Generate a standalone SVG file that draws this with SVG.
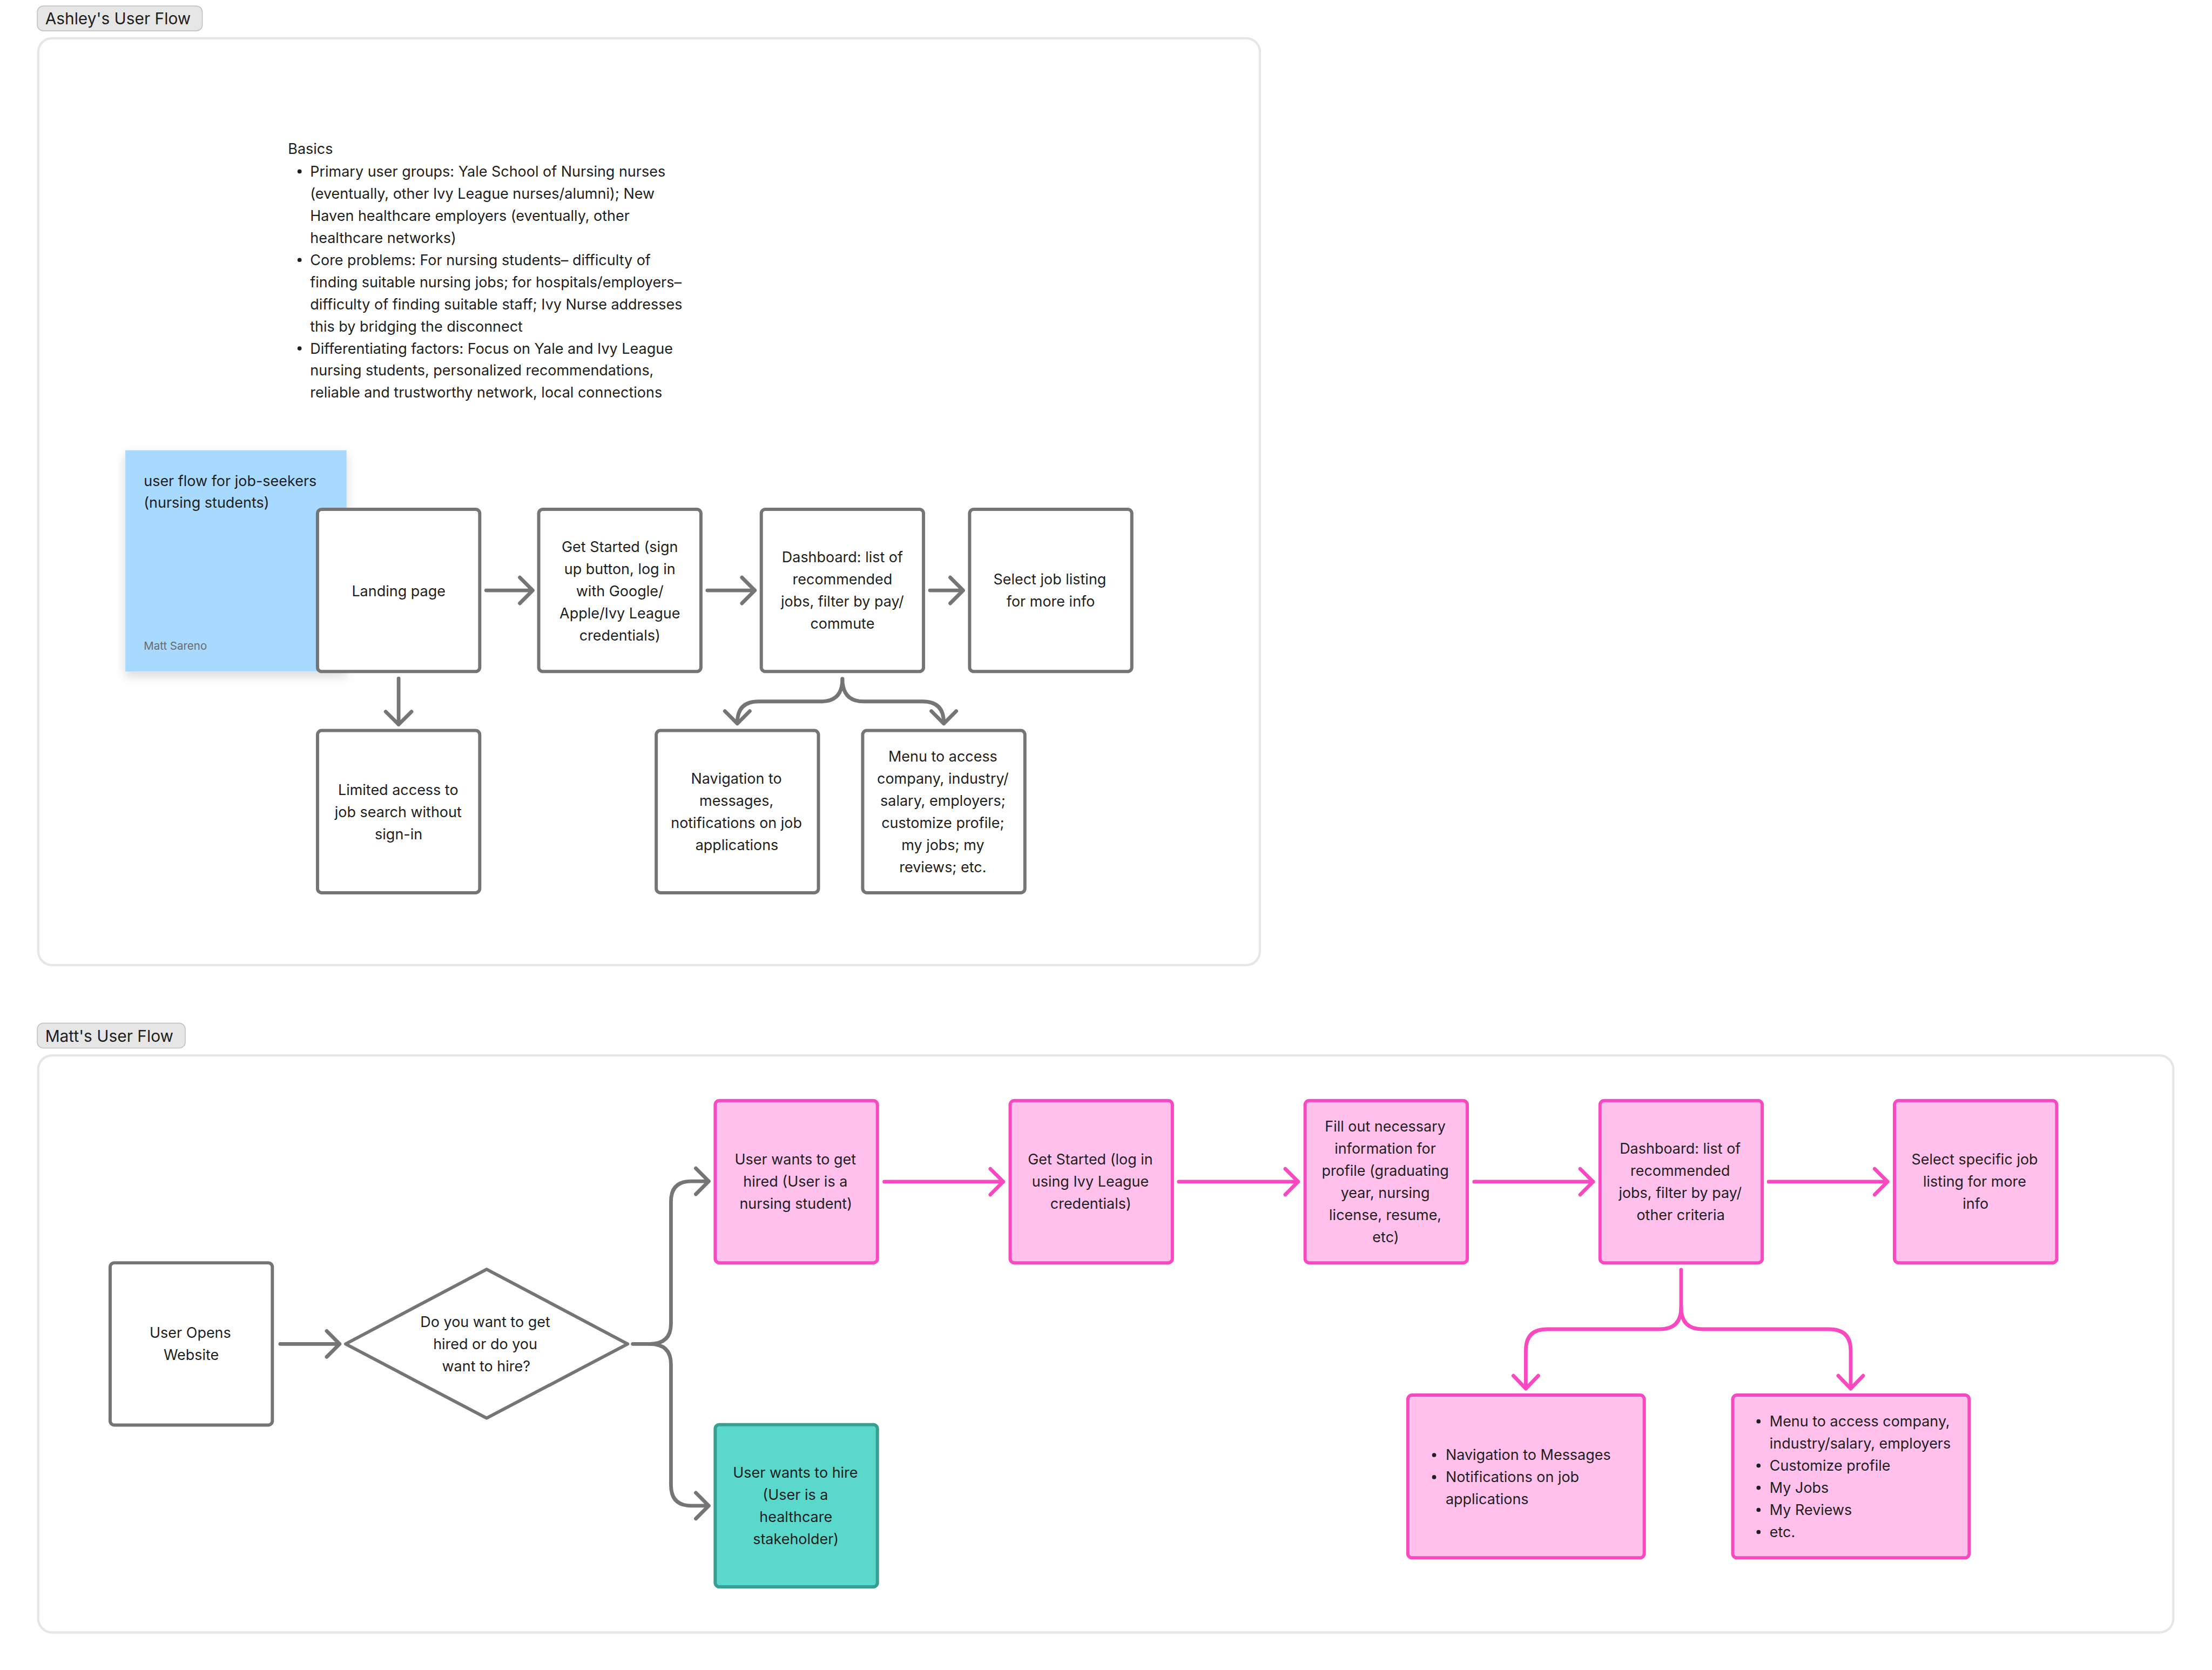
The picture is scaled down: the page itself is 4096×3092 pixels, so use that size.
<svg xmlns="http://www.w3.org/2000/svg" width="4096" height="3092" viewBox="0 0 4096 3092">
<defs>
<style>
text{font-family:Inter,"Noto Sans","Liberation Sans",sans-serif;fill:#1e1e1e;font-size:31.6px}
.c{text-anchor:middle}
.lbl{font-size:35px}
.pill{fill:#e6e6e6;stroke:#c4c4c4;stroke-width:2}
.frame{fill:#ffffff;stroke:#e6e6e6;stroke-width:5}
.gb{fill:#ffffff;stroke:#757575;stroke-width:7;stroke-linejoin:round}
.pb{fill:#ffc1ec;stroke:#f849c1;stroke-width:7}
.tb{fill:#5ad8cc;stroke:#379e92;stroke-width:7}
.gl{fill:none;stroke:#757575;stroke-width:8;stroke-linecap:round;stroke-linejoin:round}
.pl{fill:none;stroke:#f849c1;stroke-width:8;stroke-linecap:round;stroke-linejoin:round}
.dot{fill:#1e1e1e}
</style>
<filter id="sh" x="-20%" y="-20%" width="140%" height="150%">
<feDropShadow dx="0" dy="10" stdDeviation="12" flood-color="#000" flood-opacity="0.15"/>
</filter>
</defs>
<rect width="4096" height="3092" fill="#ffffff"/>
<g transform="scale(0.853333)">

<g id="ashley-label">
<rect class="pill" x="81" y="13" width="358" height="54" rx="13"/>
<text class="lbl" x="98" y="53">Ashley's User Flow</text>
</g>
<rect id="ashley-frame" class="frame" x="83" y="83" width="2651" height="2011" rx="30"/>

<g id="basics">
<text x="625" y="334">Basics</text>
<circle class="dot" cx="650" cy="372" r="4.5"/>
<circle class="dot" cx="650" cy="564" r="4.5"/>
<circle class="dot" cx="650" cy="756" r="4.5"/>
<text x="673" y="383">Primary user groups: Yale School of Nursing nurses</text>
<text x="673" y="431">(eventually, other Ivy League nurses/alumni); New</text>
<text x="673" y="479">Haven healthcare employers (eventually, other</text>
<text x="673" y="527">healthcare networks)</text>
<text x="673" y="575">Core problems: For nursing students– difficulty of</text>
<text x="673" y="623">finding suitable nursing jobs; for hospitals/employers–</text>
<text x="673" y="671">difficulty of finding suitable staff; Ivy Nurse addresses</text>
<text x="673" y="719">this by bridging the disconnect</text>
<text x="673" y="767">Differentiating factors: Focus on Yale and Ivy League</text>
<text x="673" y="815">nursing students, personalized recommendations,</text>
<text x="673" y="863">reliable and trustworthy network, local connections</text>
</g>

<g id="sticky">
<rect x="272" y="977" width="480" height="480" fill="#a8d9fe" filter="url(#sh)"/>
<text x="312" y="1055">user flow for job-seekers</text>
<text x="312" y="1102">(nursing students)</text>
<text x="312" y="1410" style="font-size:24px;fill:#6b6b6b">Matt Sareno</text>
</g>

<g id="a-landing">
<rect class="gb" x="689" y="1105" width="352" height="352" rx="9"/>
<text class="c" x="865" y="1294">Landing page</text>
</g>
<g id="a-getstarted">
<rect class="gb" x="1169" y="1105" width="352" height="352" rx="9"/>
<text class="c" x="1345" y="1198">Get Started (sign</text>
<text class="c" x="1345" y="1246">up button, log in</text>
<text class="c" x="1345" y="1294">with Google/</text>
<text class="c" x="1345" y="1342">Apple/Ivy League</text>
<text class="c" x="1345" y="1390">credentials)</text>
</g>
<g id="a-dashboard">
<rect class="gb" x="1652" y="1105" width="352" height="352" rx="9"/>
<text class="c" x="1828" y="1220">Dashboard: list of</text>
<text class="c" x="1828" y="1268">recommended</text>
<text class="c" x="1828" y="1316">jobs, filter by pay/</text>
<text class="c" x="1828" y="1364">commute</text>
</g>
<g id="a-select">
<rect class="gb" x="2104" y="1105" width="352" height="352" rx="9"/>
<text class="c" x="2278" y="1268">Select job listing</text>
<text class="c" x="2280" y="1316">for more info</text>
</g>
<g id="a-limited">
<rect class="gb" x="689" y="1585" width="352" height="352" rx="9"/>
<text class="c" x="864" y="1725">Limited access to</text>
<text class="c" x="864" y="1773">job search without</text>
<text class="c" x="865" y="1821">sign-in</text>
</g>
<g id="a-navigation">
<rect class="gb" x="1424" y="1585" width="352" height="352" rx="9"/>
<text class="c" x="1598" y="1700">Navigation to</text>
<text class="c" x="1598" y="1748">messages,</text>
<text class="c" x="1598" y="1796">notifications on job</text>
<text class="c" x="1599" y="1844">applications</text>
</g>
<g id="a-menu">
<rect class="gb" x="1872" y="1585" width="352" height="352" rx="9"/>
<text class="c" x="2046" y="1652">Menu to access</text>
<text class="c" x="2046" y="1700">company, industry/</text>
<text class="c" x="2046" y="1748">salary, employers;</text>
<text class="c" x="2046" y="1796">customize profile;</text>
<text class="c" x="2046" y="1844">my jobs; my</text>
<text class="c" x="2046" y="1892">reviews; etc.</text>
</g>

<g id="matt-label">
<rect class="pill" x="81" y="2220" width="321" height="54" rx="13"/>
<text class="lbl" x="98" y="2261">Matt's User Flow</text>
</g>
<rect id="matt-frame" class="frame" x="83" y="2290" width="4633" height="1252" rx="30"/>

<g id="m-open">
<rect class="gb" x="239" y="2740" width="352" height="352" rx="9"/>
<text class="c" x="413" y="2903">User Opens</text>
<text class="c" x="415" y="2951">Website</text>
</g>
<g id="m-decision">
<polygon class="gb" points="750,2916 1056,2754 1362,2916 1056,3077"/>
<text class="c" x="1053" y="2879">Do you want to get</text>
<text class="c" x="1053" y="2927">hired or do you</text>
<text class="c" x="1055" y="2975">want to hire?</text>
</g>
<g id="m-hired">
<rect class="pb" x="1552" y="2388" width="352" height="352" rx="9"/>
<text class="c" x="1726" y="2527">User wants to get</text>
<text class="c" x="1726" y="2575">hired (User is a</text>
<text class="c" x="1727" y="2623">nursing student)</text>
</g>
<g id="m-getstarted">
<rect class="pb" x="2192" y="2388" width="352" height="352" rx="9"/>
<text class="c" x="2366" y="2527">Get Started (log in</text>
<text class="c" x="2366" y="2575">using Ivy League</text>
<text class="c" x="2367" y="2623">credentials)</text>
</g>
<g id="m-profile">
<rect class="pb" x="2832" y="2388" width="352" height="352" rx="9"/>
<text class="c" x="3006" y="2455">Fill out necessary</text>
<text class="c" x="3006" y="2503">information for</text>
<text class="c" x="3006" y="2551">profile (graduating</text>
<text class="c" x="3006" y="2599">year, nursing</text>
<text class="c" x="3006" y="2647">license, resume,</text>
<text class="c" x="3007" y="2695">etc)</text>
</g>
<g id="m-dashboard">
<rect class="pb" x="3472" y="2388" width="352" height="352" rx="9"/>
<text class="c" x="3646" y="2503">Dashboard: list of</text>
<text class="c" x="3646" y="2551">recommended</text>
<text class="c" x="3646" y="2599">jobs, filter by pay/</text>
<text class="c" x="3647" y="2647">other criteria</text>
</g>
<g id="m-select">
<rect class="pb" x="4111" y="2388" width="352" height="352" rx="9"/>
<text class="c" x="4285" y="2527">Select specific job</text>
<text class="c" x="4285" y="2575">listing for more</text>
<text class="c" x="4287" y="2623">info</text>
</g>
<g id="m-hire">
<rect class="tb" x="1552" y="3091" width="352" height="352" rx="9"/>
<text class="c" x="1726" y="3206">User wants to hire</text>
<text class="c" x="1726" y="3254">(User is a</text>
<text class="c" x="1727" y="3302">healthcare</text>
<text class="c" x="1727" y="3350">stakeholder)</text>
</g>
<g id="m-navigation">
<rect class="pb" x="3055" y="3027" width="513" height="353" rx="9"/>
<circle class="dot" cx="3112" cy="3157" r="4.5"/>
<circle class="dot" cx="3112" cy="3205" r="4.5"/>
<text x="3137" y="3168">Navigation to Messages</text>
<text x="3137" y="3216">Notifications on job</text>
<text x="3137" y="3264">applications</text>
</g>
<g id="m-menu">
<rect class="pb" x="3760" y="3027" width="513" height="353" rx="9"/>
<circle class="dot" cx="3816" cy="3084" r="4.5"/>
<circle class="dot" cx="3816" cy="3180" r="4.5"/>
<circle class="dot" cx="3816" cy="3228" r="4.5"/>
<circle class="dot" cx="3816" cy="3276" r="4.5"/>
<circle class="dot" cx="3816" cy="3324" r="4.5"/>
<text x="3840" y="3095">Menu to access company,</text>
<text x="3840" y="3143">industry/salary, employers</text>
<text x="3840" y="3191">Customize profile</text>
<text x="3840" y="3239">My Jobs</text>
<text x="3840" y="3287">My Reviews</text>
<text x="3840" y="3335">etc.</text>
</g>

<g id="connectors">
<path class="gl" d="M1055,1281 H1156 M1128,1253 L1156,1281 L1128,1309"/>
<path class="gl" d="M1535,1281 H1638 M1610,1253 L1638,1281 L1610,1309"/>
<path class="gl" d="M2018,1281 H2090 M2062,1253 L2090,1281 L2062,1309"/>
<path class="gl" d="M865,1472 V1572 M837,1544 L865,1572 L893,1544"/>
<path class="gl" d="M1828,1473 Q1828,1522 1782,1522 H1646 Q1600,1522 1600,1568 M1573,1543 L1600,1570 L1627,1543"/>
<path class="gl" d="M1828,1473 Q1828,1522 1874,1522 H2002 Q2048,1522 2048,1568 M2021,1543 L2048,1570 L2075,1543"/>
<path class="gl" d="M608,2916 H737 M709,2888 L737,2916 L709,2944"/>
<path class="gl" d="M1373,2916 H1410 Q1456,2916 1456,2872 V2607 Q1456,2563 1500,2563 H1538 M1510,2535 L1538,2563 L1510,2591"/>
<path class="gl" d="M1410,2916 Q1456,2916 1456,2960 V3222 Q1456,3267 1500,3267 H1538 M1510,3239 L1538,3267 L1510,3295"/>
<path class="pl" d="M1919,2564 H2177 M2149,2536 L2177,2564 L2149,2592"/>
<path class="pl" d="M2558,2564 H2817 M2789,2536 L2817,2564 L2789,2592"/>
<path class="pl" d="M3199,2564 H3457 M3429,2536 L3457,2564 L3429,2592"/>
<path class="pl" d="M3838,2564 H4096 M4068,2536 L4096,2564 L4068,2592"/>
<path class="pl" d="M3648,2755 V2837 Q3648,2884 3601,2884 H3357 Q3311,2884 3311,2930 V3013 M3284,2985 L3311,3013 L3338,2985"/>
<path class="pl" d="M3648,2837 Q3648,2884 3695,2884 H3969 Q4016,2884 4016,2930 V3013 M3989,2985 L4016,3013 L4043,2985"/>
</g>
</g>
</svg>
